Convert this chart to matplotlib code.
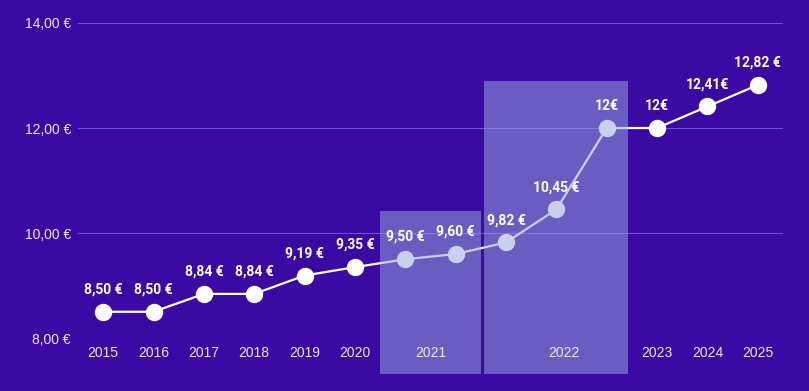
import matplotlib
matplotlib.use("Agg")
import matplotlib.pyplot as plt
from matplotlib.patches import Rectangle
import matplotlib.transforms as mtransforms

plt.rcParams["font.family"] = ["Roboto", "DejaVu Sans"]

# data
values = [8.50, 8.50, 8.84, 8.84, 9.19, 9.35, 9.50, 9.60, 9.82, 10.45, 12.0, 12.0, 12.41, 12.82]
labels = ["8,50 €", "8,50 €", "8,84 €", "8,84 €", "9,19 €", "9,35 €", "9,50 €", "9,60 €",
          "9,82 €", "10,45 €", "12€", "12€", "12,41€", "12,82 €"]
tick_labels = ["2015", "2016", "2017", "2018", "2019", "2020", "2021", "2022", "2023", "2024", "2025"]
tick_pos = [0, 1, 2, 3, 4, 5, 6.5, 9.15, 11, 12, 13]
y_ticks = [8, 10, 12, 14]
y_tick_labels = ["8,00 €", "10,00 €", "12,00 €", "14,00 €"]
# highlight boxes: (x0, x1, top)
boxes = [(5.5, 7.5, 10.42), (7.56, 10.42, 12.9)]

BG = "#3a0aa3"
TICK_C = "#ece8fa"
fig = plt.figure(figsize=(8.09, 3.91), dpi=100, facecolor=BG)
ax = fig.add_axes([0.0964, 0.1355, 0.8715, 0.8057])
ax.set_facecolor(BG)

x = list(range(len(values)))
ax.plot(x, values, color="white", lw=1.6, marker="o", ms=11.5, mec="white", mfc="white", zorder=3,
        clip_on=False)

for x0, x1, top in boxes:
    ax.add_patch(Rectangle((x0, 7.31), x1 - x0, top - 7.31, facecolor="#96a7dd", alpha=0.53,
                           edgecolor="none", zorder=4, clip_on=False))

for xi, v, t in zip(x, values, labels):
    ax.annotate(t, (xi, v), xytext=(0, 16), textcoords="offset points", ha="center", va="center",
                color="white", fontsize=10, fontweight="bold", zorder=6, annotation_clip=False)

# x labels as text so they sit above the boxes
trans = mtransforms.blended_transform_factory(ax.transData, ax.transAxes)
for p, t in zip(tick_pos, tick_labels):
    ax.annotate(t, (p, 0), xycoords=trans, xytext=(0, -11), textcoords="offset points",
                ha="center", va="center", color=TICK_C, fontsize=10,
                family=["Liberation Sans", "DejaVu Sans"], zorder=6, annotation_clip=False)

ax.set_xlim(-0.5, 13.5)
ax.set_ylim(8, 14)
ax.set_xticks([])
ax.set_yticks(y_ticks)
ax.set_yticklabels(y_tick_labels, family=["Liberation Sans", "DejaVu Sans"])
ax.tick_params(length=0, colors=TICK_C, labelsize=10)
ax.tick_params(axis="y", pad=5)
ax.grid(axis="y", color="#6c50d8", lw=0.8)
ax.set_axisbelow(True)
for s in ax.spines.values():
    s.set_visible(False)

fig.savefig("out.png", dpi=100, facecolor=BG)
